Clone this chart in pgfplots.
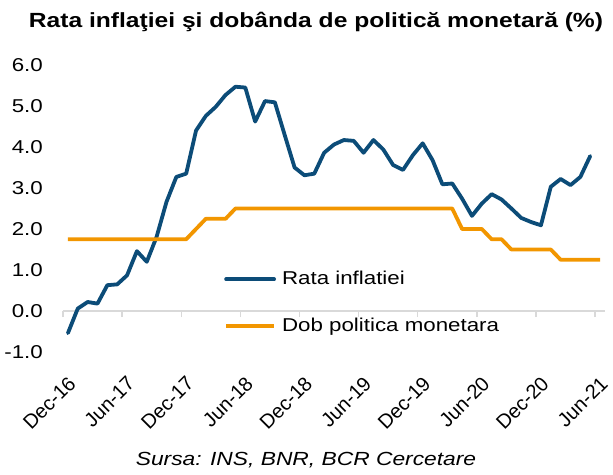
\documentclass[border=0pt]{standalone}
\usepackage{fontspec}
\setmainfont{Liberation Sans}[FakeStretch=1.2]
\newfontfamily\plainfont{Liberation Sans}
\usepackage{pgfplots}
\usepackage{pgfplotstable}
\pgfplotsset{compat=1.18}
\definecolor{infl}{RGB}{12,76,120}
\definecolor{rate}{RGB}{242,150,0}
\definecolor{axgray}{RGB}{217,217,217}
\pgfplotstableread{
i infl rate
0 -0.54 1.75
1 0.06 1.75
2 0.22 1.75
3 0.18 1.75
4 0.63 1.75
5 0.65 1.75
6 0.87 1.75
7 1.46 1.75
8 1.20 1.75
9 1.81 1.75
10 2.66 1.75
11 3.27 1.75
12 3.35 1.75
13 4.40 2.00
14 4.76 2.25
15 4.98 2.25
16 5.27 2.25
17 5.47 2.50
18 5.45 2.50
19 4.62 2.50
20 5.12 2.50
21 5.09 2.50
22 4.29 2.50
23 3.50 2.50
24 3.31 2.50
25 3.35 2.50
26 3.86 2.50
27 4.06 2.50
28 4.17 2.50
29 4.15 2.50
30 3.86 2.50
31 4.17 2.50
32 3.94 2.50
33 3.56 2.50
34 3.44 2.50
35 3.80 2.50
36 4.09 2.50
37 3.68 2.50
38 3.09 2.50
39 3.11 2.50
40 2.74 2.00
41 2.32 2.00
42 2.62 2.00
43 2.85 1.75
44 2.72 1.75
45 2.50 1.50
46 2.27 1.50
47 2.17 1.50
48 2.09 1.50
49 3.03 1.50
50 3.22 1.25
51 3.07 1.25
52 3.27 1.25
53 3.78 1.25
54 nan 1.25
}\data
\begin{document}
\begin{tikzpicture}[font=\fontsize{18.6bp}{22bp}\selectfont]
\useasboundingbox (0,0) rectangle (613bp,475bp);
\node[font=\fontsize{20.5bp}{24bp}\selectfont\bfseries, anchor=base] at (316bp,447bp) {Rata inflaţiei şi dobânda de politică monetară (\%)};
\node[font=\fontsize{19bp}{22bp}\selectfont\itshape, anchor=base] at (306bp,10bp) {Sursa: INS, BNR, BCR Cercetare};
\begin{axis}[
  at={(63bp,123bp)}, anchor=south west,
  scale only axis, width=542bp, height=287bp,
  xmin=-0.5, xmax=54.5, ymin=-1, ymax=6,
  axis x line*=middle, axis y line*=left,
  hide obscured x ticks=false,
  y axis line style={draw=none},
  x axis line style={draw=axgray, line width=1.3bp},
  xtick={-0.5,5.5,11.5,17.5,23.5,29.5,35.5,41.5,47.5,53.5},
  xticklabels={Dec-16,Jun-17,Dec-17,Jun-18,Dec-18,Jun-19,Dec-19,Jun-20,Dec-20,Jun-21},
  xtick style={draw=axgray, line width=1.3bp},
  major tick length=6bp, tick align=outside,
  xticklabel style={font=\plainfont\fontsize{20bp}{22bp}\selectfont,
    yshift=-58bp, xshift=4bp, rotate=45, anchor=north east, inner sep=0pt},
  ytick={-1,0,...,6}, ytick style={draw=none},
  yticklabel style={anchor=east, inner sep=0pt, xshift=-14bp,
    /pgf/number format/.cd, fixed, fixed zerofill, precision=1, assume math mode=true},
  legend cell align=left,
  legend image code/.code={\draw[#1] (0bp,0bp) -- (48bp,0bp);},
  legend style={draw=none, fill=none, at={(axis cs:15.84,0.2)}, anchor=west,
    inner sep=0pt, row sep=29.5bp,
    nodes={inner sep=0pt, text height=13.5bp, text depth=4bp},
    /tikz/every odd column/.append style={column sep=6bp}},
]
\addplot[infl, line width=3.8bp, line join=round, line cap=round] table[x=i, y=infl] {\data};
\addlegendentry{Rata inflatiei}
\addplot[rate, line width=3.8bp, line join=round] table[x=i, y=rate] {\data};
\addlegendentry{Dob politica monetara}
\end{axis}
\end{tikzpicture}
\end{document}
